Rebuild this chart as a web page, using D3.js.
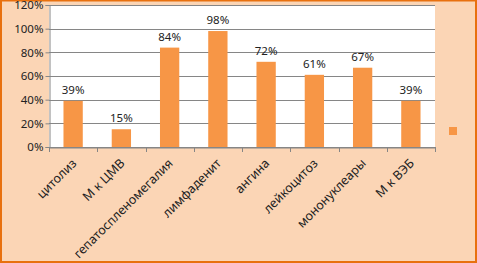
<!DOCTYPE html>
<html><head><meta charset="utf-8">
<script src="https://cdn.jsdelivr.net/npm/d3@7/dist/d3.min.js"></script>
<style>html,body{margin:0;padding:0;background:#fff}svg{display:block}</style>
</head><body>
<script>
const categories = ["цитолиз","М к ЦМВ","гепатоспленомегалия","лимфаденит","ангина","лейкоцитоз","мононуклеары","М к ВЭБ"];
const values = [39,15,84,98,72,61,67,39];
const yTicks = [0,20,40,60,80,100,120];

const W = 477, H = 263;
const m = {left:49, right:435, top:5, bottom:147};
const svg = d3.select("body").append("svg").attr("width",W).attr("height",H);

svg.append("rect").attr("x",1).attr("y",0.5).attr("width",W-2).attr("height",H-1.5)
  .attr("fill","#FBD5B5").attr("stroke","#E8700E").attr("stroke-width",2);

const x = d3.scaleBand().domain(categories).range([m.left,m.right]);
const y = d3.scaleLinear().domain([0,120]).range([m.bottom,m.top]);
const font = "'Noto Sans', 'Open Sans', sans-serif";

svg.append("rect").attr("x",m.left).attr("y",m.top).attr("width",m.right-m.left).attr("height",m.bottom-m.top).attr("fill","#fff");

// gridlines
svg.append("g").selectAll("line").data(yTicks).join("line")
  .attr("x1",m.left).attr("x2",m.right).attr("y1",d=>Math.round(y(d))+0.5).attr("y2",d=>Math.round(y(d))+0.5)
  .attr("stroke","#868686").attr("stroke-width",1);

// y axis
const ya = svg.append("g").attr("transform",`translate(${m.left+0.5},0)`)
  .call(d3.axisLeft(y).tickValues(yTicks).tickSize(4).tickFormat(d=>d+"%"));
ya.select(".domain").attr("stroke","#868686");
ya.selectAll(".tick line").attr("stroke","#868686");
ya.selectAll("text").attr("font-family",font).attr("font-size",11.5).attr("fill","#222").attr("x",-6);

// x axis
const xa = svg.append("g").attr("transform",`translate(0,${Math.round(y(0))+0.5})`)
  .call(d3.axisBottom(x).tickSize(0).tickFormat(""));
xa.select(".domain").attr("stroke","#868686");
svg.append("g").selectAll("line").data(d3.range(categories.length+1)).join("line")
  .attr("x1",i=>Math.round(m.left+i*x.step())+0.5).attr("x2",i=>Math.round(m.left+i*x.step())+0.5)
  .attr("y1",y(0)).attr("y2",y(0)+5).attr("stroke","#868686");

// bars
const bw = x.bandwidth()*0.4;
svg.append("g").selectAll("rect").data(values).join("rect")
  .attr("x",(d,i)=>x(categories[i])+x.bandwidth()/2-bw/2)
  .attr("y",d=>y(d)).attr("width",bw).attr("height",d=>y(0)-y(d))
  .attr("fill","#F79646");

// value labels
svg.append("g").selectAll("text").data(values).join("text")
  .attr("x",(d,i)=>x(categories[i])+x.bandwidth()/2)
  .attr("y",d=>y(d)-7)
  .attr("text-anchor","middle").attr("font-family",font).attr("font-size",11.5).attr("fill","#222")
  .text(d=>d+"%");

// category labels
svg.append("g").selectAll("text").data(categories).join("text")
  .attr("transform",(d)=>`translate(${x(d)+x.bandwidth()/2+1},${y(0)+14}) rotate(-45)`)
  .attr("text-anchor","end").attr("dy","0.35em")
  .attr("font-family",font).attr("font-size",12.5).attr("fill","#222")
  .text(d=>d);

// legend marker
svg.append("rect").attr("x",449).attr("y",127).attr("width",8).attr("height",8).attr("fill","#F79646");
</script>
</body></html>
